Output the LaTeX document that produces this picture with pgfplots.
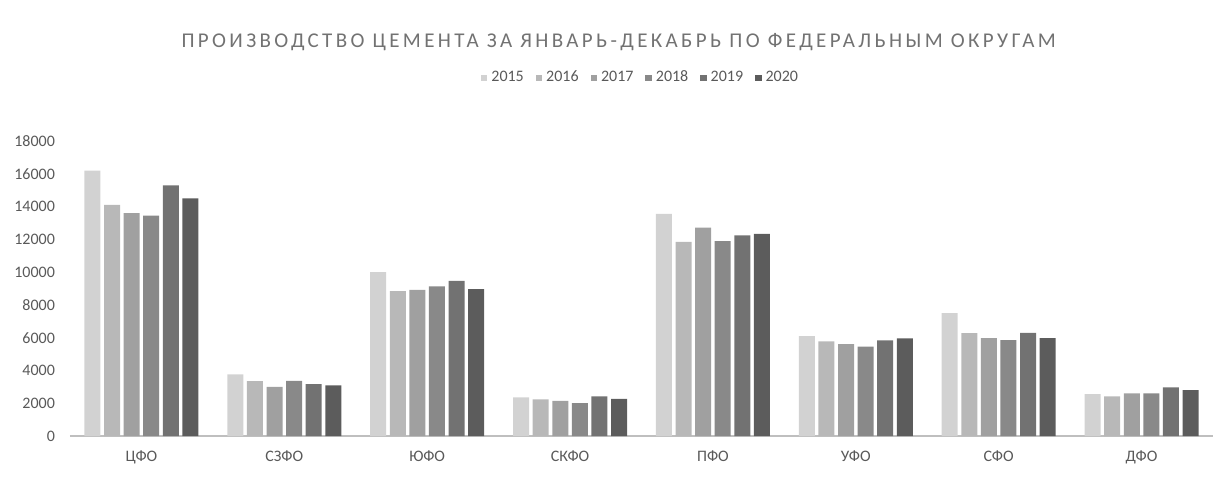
\documentclass[border=0pt]{standalone}
\usepackage{fontspec}
\setmainfont{Carlito}
\usepackage{pgfplots}
\pgfplotsset{compat=1.18}
\definecolor{c15}{HTML}{D2D2D2}
\definecolor{c16}{HTML}{B8B8B8}
\definecolor{c17}{HTML}{A0A0A0}
\definecolor{c18}{HTML}{898989}
\definecolor{c19}{HTML}{727272}
\definecolor{c20}{HTML}{5C5C5C}
\definecolor{txt}{HTML}{595959}
\begin{document}
\begin{tikzpicture}
\begin{axis}[
  scale only axis,
  width=571.5pt, height=147.5pt,
  ybar=1.8pt, bar width=8pt,
  xmin=-0.5, xmax=7.5, ymin=0, ymax=18000,
  xtick=data,
  xticklabels={ЦФО,СЗФО,ЮФО,СКФО,ПФО,УФО,СФО,ДФО},
  ytick={0,2000,...,18000},
  axis x line*=bottom, axis y line*=left,
  x axis line style={draw=black!25, line width=0.8pt, -},
  y axis line style={draw=none},
  major tick length=0pt,
  ticklabel style={font=\fontsize{8}{9}\selectfont, text=txt},
  yticklabel style={xshift=-4pt},
  xticklabel style={yshift=-4pt},
  /pgf/number format/assume math mode=true,
  scaled y ticks=false,
  yticklabel={\pgfmathprintnumber[fixed,1000 sep={}]{\tick}},
  title={\addfontfeatures{LetterSpace=16}ПРОИЗВОДСТВО ЦЕМЕНТА ЗА ЯНВАРЬ-ДЕКАБРЬ ПО ФЕДЕРАЛЬНЫМ ОКРУГАМ},
  title style={at={(0.48,1.296)}, anchor=center, font=\fontsize{10.5}{12}\selectfont, text=txt!85},
  legend columns=6,
  legend style={at={(0.5,1.214)}, anchor=center, draw=none, fill=none,
    font=\fontsize{8}{9}\selectfont, text=txt, /tikz/every even column/.append style={column sep=4pt}},
  legend image code/.code={\fill[#1] (0pt,-1.6pt) rectangle (3.2pt,1.6pt);},
  every axis plot/.append style={draw=none},
]
\addplot[fill=c15] coordinates {(0,16200) (1,3760) (2,10000) (3,2360) (4,13560) (5,6100) (6,7500) (7,2560)};
\addplot[fill=c16] coordinates {(0,14100) (1,3350) (2,8840) (3,2240) (4,11850) (5,5770) (6,6280) (7,2420)};
\addplot[fill=c17] coordinates {(0,13600) (1,3000) (2,8920) (3,2150) (4,12720) (5,5610) (6,5980) (7,2600)};
\addplot[fill=c18] coordinates {(0,13450) (1,3370) (2,9130) (3,2000) (4,11890) (5,5450) (6,5850) (7,2600)};
\addplot[fill=c19] coordinates {(0,15300) (1,3170) (2,9470) (3,2420) (4,12240) (5,5830) (6,6300) (7,2970)};
\addplot[fill=c20] coordinates {(0,14500) (1,3090) (2,8960) (3,2260) (4,12340) (5,5960) (6,5980) (7,2800)};
\legend{2015,2016,2017,2018,2019,2020}
\end{axis}
\useasboundingbox (-35pt,-21.5pt) rectangle (578.5pt,218pt);
\end{tikzpicture}
\end{document}
